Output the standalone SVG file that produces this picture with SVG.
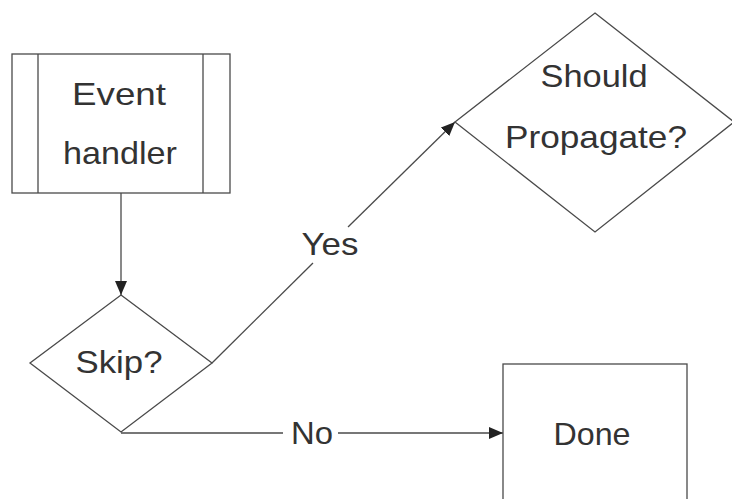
<svg xmlns="http://www.w3.org/2000/svg" width="732" height="499" viewBox="0 0 732 499">
  <defs>
    <marker id="arrow" viewBox="0 0 14 12" refX="14" refY="6" markerWidth="14" markerHeight="12" markerUnits="userSpaceOnUse" orient="auto">
      <path d="M0,0 L14,6 L0,12 Z" fill="#222"/>
    </marker>
  </defs>
  <style>
    .shape { fill: #fff; stroke: #4a4a4a; stroke-width: 1.3; }
    .edge { fill: none; stroke: #4a4a4a; stroke-width: 1.3; }
    .label { font-family: "Liberation Sans", Arial, sans-serif; font-size: 32px; fill: #333; text-anchor: middle; }
  </style>
  <rect width="732" height="499" fill="#fff"/>

  <g id="connectors">
    <line class="edge" x1="121" y1="193" x2="121" y2="295" marker-end="url(#arrow)"/>
    <!-- Yes: split around the label -->
    <line class="edge" x1="212" y1="363" x2="313" y2="263"/>
    <line class="edge" x1="348" y1="227" x2="455" y2="122" marker-end="url(#arrow)"/>
    <text class="label" x="330" y="255" textLength="57" lengthAdjust="spacingAndGlyphs">Yes</text>
    <!-- No: split around the label -->
    <line class="edge" x1="121" y1="433" x2="283" y2="433"/>
    <line class="edge" x1="338" y1="433" x2="503" y2="433" marker-end="url(#arrow)"/>
    <text class="label" x="312" y="444" textLength="42" lengthAdjust="spacingAndGlyphs">No</text>
  </g>

  <g id="event-handler">
    <rect class="shape" x="12" y="54" width="218" height="139"/>
    <line class="edge" x1="38" y1="54" x2="38" y2="193"/>
    <line class="edge" x1="203" y1="54" x2="203" y2="193"/>
    <text class="label" x="119" y="105" textLength="94" lengthAdjust="spacingAndGlyphs">Event</text>
    <text class="label" x="120" y="164" textLength="114" lengthAdjust="spacingAndGlyphs">handler</text>
  </g>

  <g id="skip">
    <polygon class="shape" points="121,295 212,363 121,432 30,363"/>
    <text class="label" x="119" y="373" textLength="87" lengthAdjust="spacingAndGlyphs">Skip?</text>
  </g>

  <g id="should-propagate">
    <polygon class="shape" points="595,13 734,122 595,232 455,122"/>
    <text class="label" x="594" y="87" textLength="107" lengthAdjust="spacingAndGlyphs">Should</text>
    <text class="label" x="596" y="148" textLength="182" lengthAdjust="spacingAndGlyphs">Propagate?</text>
  </g>

  <g id="done">
    <rect class="shape" x="503" y="364" width="184" height="150"/>
    <text class="label" x="592" y="445" textLength="77" lengthAdjust="spacingAndGlyphs">Done</text>
  </g>
</svg>
